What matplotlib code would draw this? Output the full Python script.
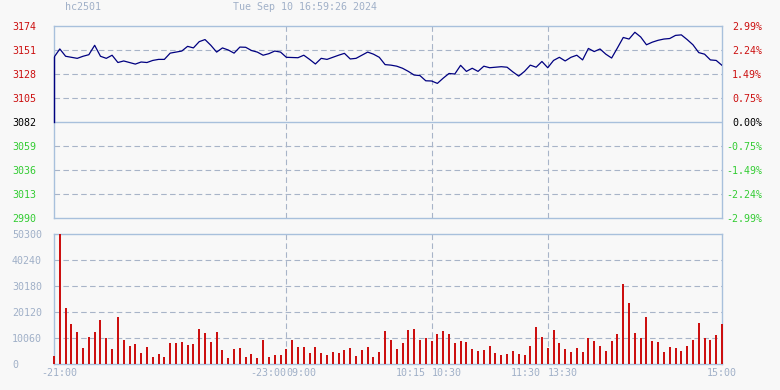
import matplotlib
matplotlib.use('Agg')
import matplotlib.pyplot as plt
import numpy as np

plt.rcParams['font.family'] = ['DejaVu Sans Mono']

# 数据: 3分钟K线收盘价与成交量 (hc2501)
symbol = "hc2501"
stamp = "Tue Sep 10 16:59:26 2024"
prev_close = 3082
price = [3144, 3152, 3145, 3144, 3143, 3145, 3146.5, 3155.5, 3145, 3143,
         3146, 3139, 3140.5, 3139, 3137.5, 3139.5, 3139, 3141, 3142, 3142,
         3148, 3149, 3150, 3154.5, 3153, 3159, 3161, 3155.5, 3149, 3153,
         3151, 3148, 3153.8, 3153.6, 3150.5, 3149, 3146, 3147.5, 3150, 3149,
         3144, 3143.8, 3143.6, 3146, 3142, 3137.6, 3143, 3142, 3144, 3146,
         3147.8, 3142.4, 3143, 3146, 3149, 3147, 3144, 3137, 3136.5, 3135.5,
         3133.5, 3130.5, 3127, 3126.5, 3121.5, 3121.3, 3119, 3124, 3128.5, 3128,
         3136.3, 3130.5, 3133.5, 3130.5, 3135.5, 3134, 3134.5, 3135, 3134.5, 3130,
         3126, 3130.5, 3136.5, 3134.5, 3140, 3134, 3141, 3144, 3140.5, 3144,
         3146, 3141.5, 3152.5, 3149.5, 3152, 3147, 3143.3, 3153, 3163, 3161.5,
         3168, 3163.5, 3156, 3158.5, 3160.3, 3161.5, 3162, 3165, 3165.5, 3161,
         3156, 3148.5, 3147, 3141.5, 3141, 3136.3]
volume = [3100, 50300, 21800, 15500, 12500, 6300, 10600, 12500, 17150, 10200,
          5900, 18300, 9300, 7100, 7850, 4400, 6700, 2850, 4000, 2850,
          8250, 8250, 8650, 7500, 7850, 13700, 12100, 8650, 12500, 5550,
          2450, 5900, 6300, 2850, 4000, 2450, 9400, 2850, 3600, 3600,
          5900, 9400, 6700, 6700, 4400, 6700, 4400, 3600, 4800, 4400,
          5550, 6300, 3200, 5550, 6700, 2850, 4800, 12900, 9400, 5900,
          8250, 13300, 13700, 9400, 10200, 9000, 11700, 12900, 11700, 8250,
          9000, 8650, 5900, 5150, 5550, 7100, 4400, 3600, 4000, 5150,
          4000, 3600, 7100, 14450, 10600, 6150, 13300, 8250, 5900, 4800,
          6300, 4800, 10050, 9000, 7100, 5150, 9000, 11700, 31050, 23700,
          12100, 10050, 18300, 9000, 8650, 4800, 6700, 6300, 5150, 7100,
          9400, 16000, 10200, 9400, 11350, 15600]
price_ticks = [2990, 3013, 3036, 3059, 3082, 3105, 3128, 3151, 3174]
vol_ticks = [0, 10060, 20120, 30180, 40240, 50300]
session_breaks = [40, 65, 85]
# (位置, 文字, 对齐)
time_labels = [(0.86, "-21:00", 'center'), (40, "-23:00", 'right'), (40, "09:00", 'left'),
               (64, "10:15", 'right'), (65, "10:30", 'left'), (83.8, "11:30", 'right'),
               (85, "13:30", 'left'), (115, "15:00", 'center')]

bg = '#f8f8f8'
edge = '#a8c0dc'
gridc = '#a8b4c8'
red = '#cc1010'
green = '#33cc33'
pale = '#a0b0c8'
fs = 7.2

fig = plt.figure(figsize=(7.8, 3.9), dpi=100, facecolor=bg)
ax = fig.add_axes([54/780, 1-218/390, 668/780, 192/390], facecolor=bg)
axv = fig.add_axes([54/780, 1-364/390, 668/780, 130/390], facecolor=bg)

x = np.arange(len(price))
ax.plot([0, 0], [prev_close, price[0]], color='#000080', lw=1, zorder=5, clip_on=False)
ax.plot(x, price, color='#000080', lw=0.9, zorder=5)
ax.set_xlim(0, 115)
ax.set_ylim(price_ticks[0], price_ticks[-1])

for a in (ax, axv):
    for s in a.spines.values():
        s.set_color(edge)
        s.set_linewidth(1)
    a.set_xticks([])
    for b in session_breaks:
        a.axvline(b, color=gridc, lw=0.8, ls=(0, (5, 3)))

for t in price_ticks[1:-1]:
    if t == prev_close:
        ax.axhline(t, color=edge, lw=1)
    else:
        ax.axhline(t, color=gridc, lw=0.8, ls=(0, (5, 3)))

ax.set_yticks(price_ticks)
ax.set_yticklabels([str(t) for t in price_ticks])
ax.tick_params(axis='y', length=0, pad=30.2, labelsize=fs)
for t, lab in zip(price_ticks, ax.get_yticklabels()):
    lab.set_ha('left')
    lab.set_color(red if t > prev_close else (green if t < prev_close else 'black'))

ax2 = ax.twinx()
pct = [(t / prev_close - 1) * 100 for t in price_ticks]
ax2.set_ylim(pct[0], pct[-1])
ax2.set_yticks(pct)
ax2.set_yticklabels(["%.2f%%" % p for p in pct])
ax2.tick_params(axis='y', length=0, pad=28.8, labelsize=fs)
for p, lab in zip(pct, ax2.get_yticklabels()):
    lab.set_ha('right')
    lab.set_color(red if p > 0.001 else (green if p < -0.001 else 'black'))
for s in ax2.spines.values():
    s.set_visible(False)

axv.vlines(x, 0, volume, color=red, lw=1.1, antialiased=False, zorder=3, clip_on=False)
axv.set_xlim(0, 115)
axv.set_ylim(0, vol_ticks[-1])
for t in vol_ticks[1:-1]:
    axv.axhline(t, color=gridc, lw=0.8, ls=(0, (5, 3)))
axv.set_yticks(vol_ticks)
axv.set_yticklabels([str(t) for t in vol_ticks])
axv.tick_params(axis='y', length=0, pad=30.2, labelsize=fs, labelcolor=pale)
for lab in axv.get_yticklabels():
    lab.set_ha('left')

for pos, txt, ha in time_labels:
    axv.text(pos, -0.03, txt, transform=axv.get_xaxis_transform(), ha=ha, va='top',
             fontsize=fs, color=pale)

fig.text(65/780, 1-7/390, symbol, fontsize=fs, color=pale, va='center')
fig.text(233/780, 1-7/390, stamp, fontsize=fs, color=pale, va='center')

fig.savefig('out.png', dpi=100, facecolor=bg)
